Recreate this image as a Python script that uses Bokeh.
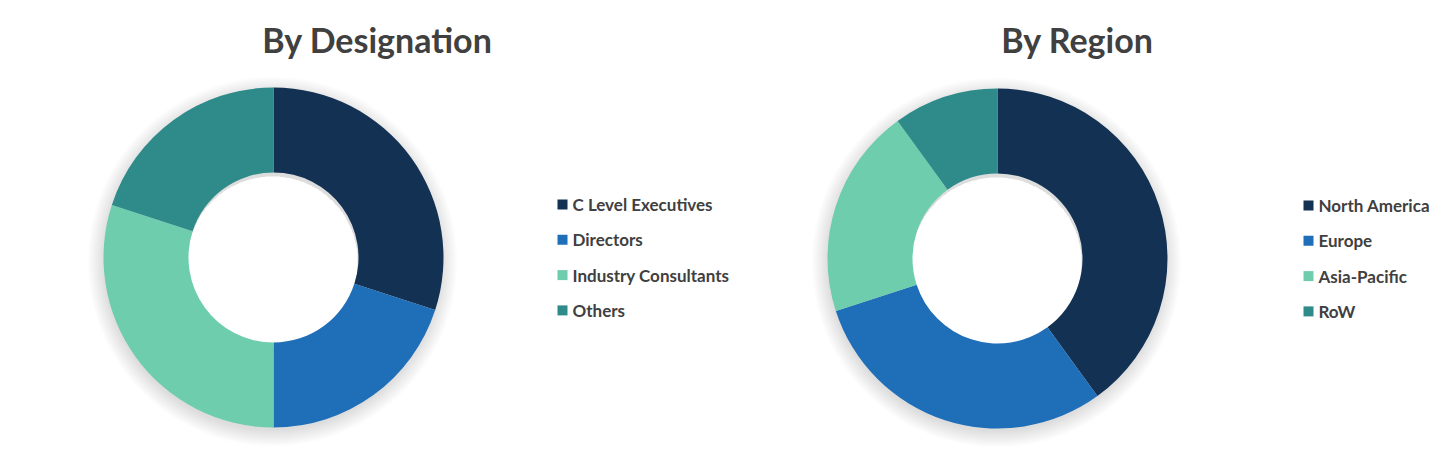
import numpy as np
from bokeh.plotting import figure
from bokeh.models import Range1d
from bokeh.core.properties import value
from bokeh.embed import file_html
from bokeh.resources import INLINE

# ---- data ----
desig_labels = ["C Level Executives", "Directors", "Industry Consultants", "Others"]
desig_values = [30, 20, 30, 20]
region_labels = ["North America", "Europe", "Asia-Pacific", "RoW"]
region_values = [40, 30, 20, 10]
colors = ["#133153", "#1f6eb8", "#6ecdad", "#2f8b8a"]
titles = ["By Designation", "By Region"]

W, H = 1440, 446
p = figure(width=W, height=H, x_range=Range1d(0, W), y_range=Range1d(0, H),
           output_backend="svg", toolbar_location=None, min_border=0)
p.axis.visible = False
p.grid.visible = False
p.outline_line_color = None
p.background_fill_color = "white"

def X(px):
    return px

def Y(py):
    return H - py

FONT = "Lato"

def donut(cx, cy, vals, labels, title, tx, lx, ly0):
    vals = np.array(vals, dtype=float)
    frac = vals / vals.sum()
    cum = np.concatenate([[0], np.cumsum(frac)])
    start = np.pi / 2 - cum[:-1] * 2 * np.pi
    end = np.pi / 2 - cum[1:] * 2 * np.pi
    # soft shadow
    for k in range(1, 18):
        p.annulus(x=[X(cx) - 1], y=[Y(cy) - 4], inner_radius=85, outer_radius=168 + k,
                  fill_color="#000000", fill_alpha=0.008, line_color=None)
    p.annular_wedge(x=X(cx), y=Y(cy), inner_radius=85, outer_radius=170,
                    start_angle=start, end_angle=end, direction="clock",
                    fill_color=colors, line_color=None)
    p.text(x=[X(tx)], y=[Y(39)], text=[title], text_font=value(FONT),
           text_font_style="bold", text_font_size="34px", text_color="#404040",
           text_align="center", text_baseline="middle")
    ys = [Y(ly0 + 35.3 * i) for i in range(len(labels))]
    p.rect(x=[X(lx)] * len(labels), y=ys, width=10, height=10,
           fill_color=colors, line_color=None)
    p.text(x=[X(lx + 10)] * len(labels), y=ys, text=labels, text_font=value(FONT),
           text_font_style="bold", text_font_size="17px", text_color="#404040",
           text_align="left", text_baseline="middle")

donut(273, 257, desig_values, desig_labels, titles[0], 377, 562, 204)
donut(997, 258, region_values, region_labels, titles[1], 1077, 1308, 205)

open("out.html", "w").write(file_html(p, INLINE))
